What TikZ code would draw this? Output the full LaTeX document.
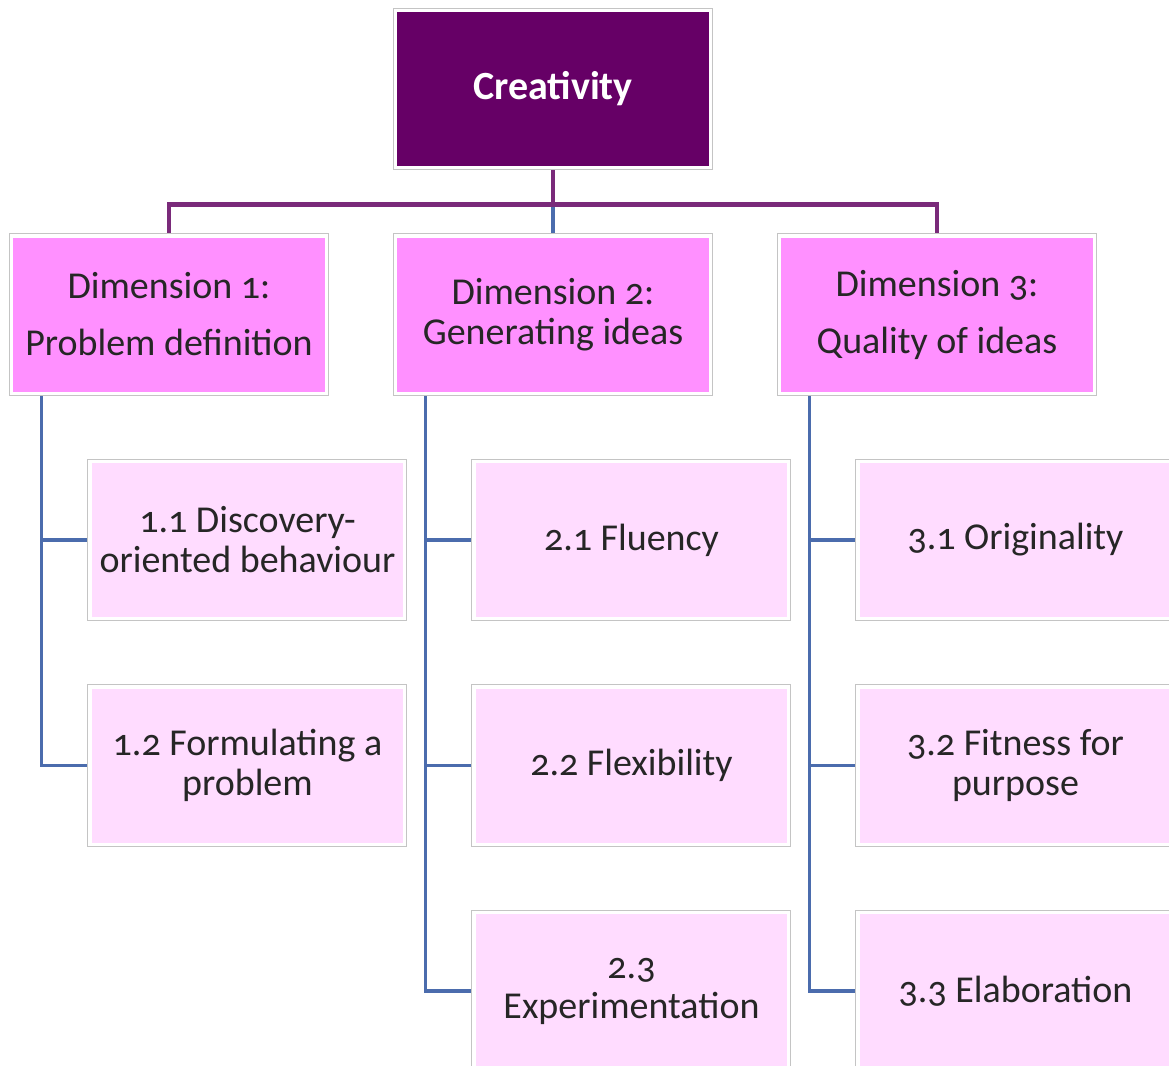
\documentclass[tikz,border=0pt]{standalone}
\usepackage{fontspec}
\setmainfont{Carlito}[Numbers=OldStyle]
\usetikzlibrary{positioning}
\usetikzlibrary{backgrounds}
\usepackage{xcolor}
\definecolor{plum}{HTML}{660066}
\definecolor{dimpink}{HTML}{FF90FF}
\definecolor{subpink}{HTML}{FFDCFF}
\definecolor{framegray}{HTML}{C4C4C4}
\definecolor{trunkline}{HTML}{7A2A7A}
\definecolor{stemline}{HTML}{4B6CAD}
\definecolor{inkgray}{HTML}{262626}

\begin{document}
\begin{tikzpicture}[node distance=112.75pt and 39.25pt, on grid,
    box/.style={preaction={draw=framegray, line width=2.6pt}, draw=white, line width=1.6pt,
      minimum width=157.4pt, minimum height=78.6pt, inner sep=1pt, align=center,
      text=inkgray, font=\fontsize{19}{20}\selectfont},
    top/.style={box, fill=plum, text=white, font=\fontsize{20}{21}\selectfont\bfseries},
    dim/.style={box, fill=dimpink},
    sub/.style={box, fill=subpink},
    trunk/.style={draw=trunkline, line width=2.2pt},
    stem/.style={draw=stemline, line width=1.7pt}]
    % fix the page to the reference frame
    \useasboundingbox (-276.5pt,44.5pt) rectangle (308pt,-488.5pt);

    \node[top] (crea) {Creativity};
    \node[dim] (dim2) [below=of crea] {Dimension 2:\\Generating ideas};
    \node[dim] (dim1) [left=192pt of dim2] {Dimension 1:\\[8.5pt]Problem definition};
    \node[dim] (dim3) [right=192pt of dim2] {Dimension 3:\\[8.5pt]Quality of ideas};

    \node[sub] (d11) [below right=of dim1] {1.1 Discovery-\\oriented behaviour};
    \node[sub] (d12) [below=of d11] {1.2 Formulating a\\problem};
    \node[sub] (d21) [below right=of dim2] {2.1 Fluency};
    \node[sub] (d22) [below=of d21] {2.2 Flexibility};
    \node[sub] (d23) [below=of d22] {2.3\\Experimentation};
    \node[sub] (d31) [below right=of dim3] {3.1 Originality};
    \node[sub] (d32) [below=of d31] {3.2 Fitness for\\purpose};
    \node[sub] (d33) [below=of d32] {3.3 Elaboration};

    \begin{scope}[on background layer]
      \coordinate (bus) at ([yshift=-17.7pt]crea.south);
      \draw[stem] (dim2.north) -- (bus);
      \draw[trunk] (crea.south) -- (bus) -| (dim1.north);
      \draw[trunk] (bus) -| (dim3.north);

      % spines down the left of each dimension
      \coordinate (s1) at ([xshift=15.75pt]dim1.south west);
      \coordinate (s2) at ([xshift=15.75pt]dim2.south west);
      \coordinate (s3) at ([xshift=15.75pt]dim3.south west);
      \draw[stem] (s1) |- (d12.west);
      \draw[stem] (s1 |- d11.west) -- (d11.west);
      \draw[stem] (s2) |- (d23.west);
      \draw[stem] (s2 |- d21.west) -- (d21.west);
      \draw[stem] (s2 |- d22.west) -- (d22.west);
      \draw[stem] (s3) |- (d33.west);
      \draw[stem] (s3 |- d31.west) -- (d31.west);
      \draw[stem] (s3 |- d32.west) -- (d32.west);
    \end{scope}
\end{tikzpicture}
\end{document}
